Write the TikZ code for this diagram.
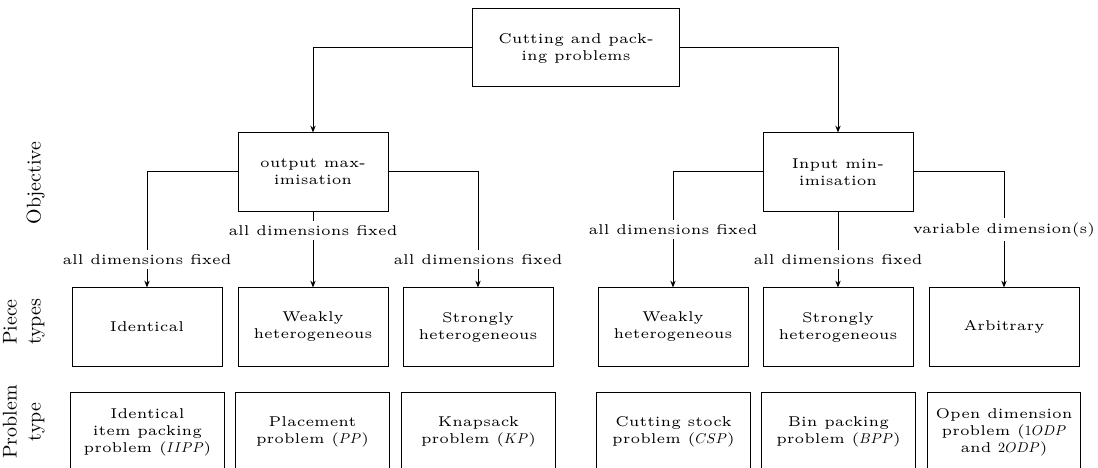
\documentclass[tikz,border=0pt]{standalone}
\usetikzlibrary{arrows.meta}
\newcommand\mabbr[1]{\scalebox{0.5}{\normalsize$#1$}}
\begin{document}
\begin{tikzpicture}[x=0.352pt, y=-0.352pt,
  box/.style={draw, line width=0.35pt, minimum width=52.8pt, minimum height=27.46pt, align=center, font=\tiny, inner sep=1pt},
  pbox/.style={box, minimum width=53.9pt},
  topbox/.style={box, minimum width=73.2pt},
  lbl/.style={fill=white, font=\tiny, inner sep=1.5pt},
  arr/.style={-{Stealth[length=2.4pt,width=1.9pt]}, line width=0.35pt},
  side/.style={rotate=90, anchor=south, align=center, inner sep=0pt, scale=0.7, transform shape, font=\normalsize}]
\useasboundingbox (0,0) rectangle (1098,468);
\clip (0,0) rectangle (1098,468);

% side labels
\node[side] (sObj) at (45,183) {Objective};
\node[side] (sPiece) at (45,322) {Piece\\types};
\node[side] (sProb) at (45,422) {Problem\\type};

% root and objectives
\node[topbox] (top) at (576,48) {Cutting and pack-\\ing problems};
\node[box] (o1) at (313,172) {output max-\\imisation};
\node[box] (o2) at (838,172) {Input min-\\imisation};

% piece types
\node[box] (p1) at (147,327) {Identical};
\node[box] (p2) at (313,327) {Weakly\\heterogeneous};
\node[box] (p3) at (478,327) {Strongly\\heterogeneous};
\node[box] (p4) at (673,327) {Weakly\\heterogeneous};
\node[box] (p5) at (838,327) {Strongly\\heterogeneous};
\node[box] (p6) at (1004,327) {Arbitrary};

% problem types
\node[pbox] (q1) at (147.5,432) {Identical\\item packing\\problem (\mabbr{IIPP})};
\node[pbox] (q2) at (312.5,432) {Placement\\problem (\mabbr{PP})};
\node[pbox] (q3) at (478.5,432) {Knapsack\\problem (\mabbr{KP})};
\node[pbox] (q4) at (673.5,432) {Cutting stock\\problem (\mabbr{CSP})};
\node[pbox] (q5) at (838.5,432) {Bin packing\\problem (\mabbr{BPP})};
\node[pbox] (q6) at (1004,432) {Open dimension\\problem (\mabbr{1ODP}\\and \mabbr{2ODP})};

% connectors
\draw[arr] (top.west) -| (o1.north);
\draw[arr] (top.east) -| (o2.north);

\draw[arr] (o1.west) -| node[lbl, pos=0.879] {all dimensions fixed} (p1.north);
\draw[arr] (o1.south) -- node[lbl, pos=0.247] {all dimensions fixed} (p2.north);
\draw[arr] (o1.east) -| node[lbl, pos=0.879] {all dimensions fixed} (p3.north);

\draw[arr] (o2.west) -| node[lbl, pos=0.75] {all dimensions fixed} (p4.north);
\draw[arr] (o2.south) -- node[lbl, pos=0.636] {all dimensions fixed} (p5.north);
\draw[arr] (o2.east) -| node[lbl, pos=0.75] {variable dimension(s)} (p6.north);
\end{tikzpicture}
\end{document}
